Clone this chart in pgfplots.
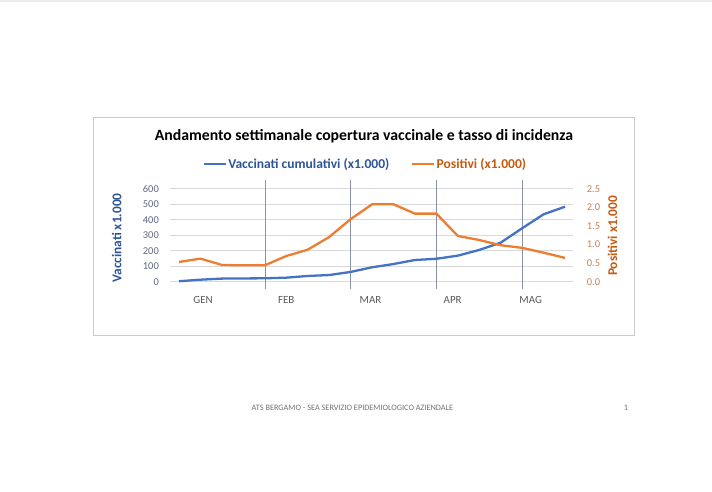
\documentclass[border=0pt]{standalone}
\usepackage{pgfplots}
\pgfplotsset{compat=1.18}
\usepackage{pgfplotstable}
\usepackage{fontspec}
\setmainfont{Carlito}
\definecolor{cblue}{RGB}{68,114,196}
\definecolor{corange}{RGB}{237,125,49}
\definecolor{tblue}{RGB}{47,85,151}
\definecolor{torange}{RGB}{197,90,17}
\definecolor{lticks}{RGB}{95,105,130}
\definecolor{rticks}{RGB}{205,130,80}
\definecolor{mtext}{RGB}{89,89,89}
\definecolor{gridc}{RGB}{217,217,217}
\definecolor{sepc}{RGB}{135,145,170}

\pgfplotstableread{
idx vacc pos
0 3 0.53
1 13 0.62
2 20 0.45
3 21 0.44
4 22 0.44
5 26 0.69
6 37 0.86
7 43 1.20
8 63 1.68
9 93 2.08
10 114 2.08
11 140 1.83
12 148 1.83
13 168 1.23
14 205 1.12
15 252 0.98
16 345 0.91
17 435 0.78
18 484 0.64
}\data

\begin{document}
\begin{tikzpicture}
\begin{scope}[x=1bp,y=-1bp]
\fill[white] (0,0) rectangle (712,492);
\fill[black!7] (0,0) rectangle (712,2);
\draw[black!20, line width=0.8bp, fill=white] (93,117) rectangle (634,335);
\node[font=\bfseries\fontsize{15.8}{18}\selectfont, anchor=base, inner sep=0pt] at (364,140.5) {Andamento settimanale copertura vaccinale e tasso di incidenza};
\node[rotate=90, font=\bfseries\fontsize{13.4}{15}\selectfont, text=tblue, inner sep=0pt] at (116.7,238) {Vaccinati x1.000};
\node[rotate=90, font=\bfseries\fontsize{13.4}{15}\selectfont, text=torange, inner sep=0pt] at (612.5,236) {Positivi x1.000};
\node[font=\fontsize{8.3}{9}\selectfont, text=black!55, inner sep=0pt] at (352.5,408) {ATS BERGAMO - SEA SERVIZIO EPIDEMIOLOGICO AZIENDALE};
\node[font=\fontsize{8.3}{9}\selectfont, text=black!55, inner sep=0pt] at (626,408) {1};
\end{scope}

\begin{axis}[
  at={(170bp,-281.7bp)}, anchor=south west,
  scale only axis, width=403bp, height=93bp,
  xmin=-0.42, xmax=18.37, ymin=0, ymax=600,
  axis line style={draw=none}, major tick style={draw=none},
  ytick={0,100,...,600}, ymajorgrids, major grid style={gridc, line width=0.75bp},
  xtick={1.12,5,8.93,12.76,16.4}, xticklabels={GEN,FEB,MAR,APR,MAG},
  xticklabel style={anchor=base, yshift=-22bp, font=\fontsize{11}{13}\selectfont, text=mtext, inner sep=0pt},
  yticklabel style={anchor=east, xshift=-11bp, font=\fontsize{10.5}{12}\selectfont, text=lticks, inner sep=0pt},
  /pgf/number format/assume math mode=true,
  clip=false,
  legend style={at={(0.484,1.266)}, anchor=center, draw=none, fill=none, legend columns=2,
    font=\bfseries\fontsize{13.6}{15}\selectfont, inner sep=0pt,
    nodes={inner sep=1.5bp},
    /tikz/every even column/.append style={column sep=20bp}},
  legend image code/.code={\draw[#1] (0bp,0bp) -- (22bp,0bp);},
]
\foreach \s in {4,8,12,16} {
  \edef\tmp{\noexpand\draw[sepc, line width=0.5bp] (axis cs:\s,-47) -- (axis cs:\s,659);}
  \tmp
}
\addplot[cblue, line width=2.3bp, line join=round] table[x=idx, y=vacc] {\data};
\addlegendentry{\textcolor{tblue}{Vaccinati cumulativi (x1.000)}}
\addlegendimage{corange, line width=2.3bp}
\addlegendentry{\textcolor{torange}{Positivi (x1.000)}}
\end{axis}

\begin{axis}[
  at={(170bp,-281.7bp)}, anchor=south west,
  scale only axis, width=403bp, height=93bp,
  xmin=-0.42, xmax=18.37, ymin=0, ymax=2.5,
  axis x line=none, axis y line*=right,
  axis line style={draw=none}, major tick style={draw=none},
  ytick={0,0.5,...,2.5},
  yticklabel style={anchor=west, xshift=13.7bp, font=\fontsize{10.5}{12}\selectfont, text=rticks, inner sep=0pt,
    /pgf/number format/fixed, /pgf/number format/fixed zerofill, /pgf/number format/precision=1},
  /pgf/number format/assume math mode=true,
]
\addplot[corange, line width=2.3bp, line join=round] table[x=idx, y=pos] {\data};
\end{axis}
\end{tikzpicture}
\end{document}
